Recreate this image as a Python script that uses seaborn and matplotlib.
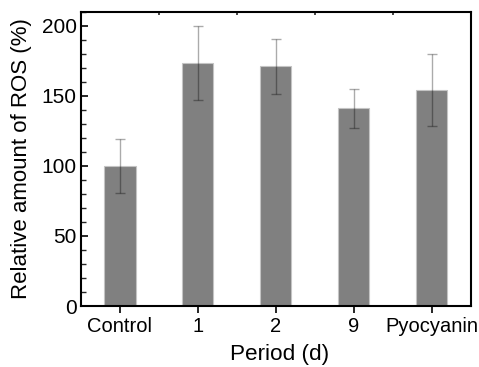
import matplotlib
matplotlib.use("Agg")
import matplotlib.pyplot as plt
import seaborn as sns
import pandas as pd
import numpy as np
from matplotlib.ticker import MultipleLocator, FixedLocator

categories = ["Control", "1", "2", "9", "Pyocyanin"]
ros_mean = [100.0, 173.5, 171.0, 141.0, 154.0]
ros_err = [19.0, 26.5, 19.5, 13.8, 25.6]

sns.set_theme(style="ticks")
plt.rcParams['font.family'] = ['Liberation Sans', 'DejaVu Sans']
plt.rcParams['text.color'] = 'black'
plt.rcParams['axes.labelcolor'] = 'black'

fig = plt.figure(figsize=(4.79, 3.67), dpi=100)
ax = fig.add_axes([0.169, 0.166, 0.8137, 0.802])

df = pd.DataFrame({"Period": categories, "ROS": ros_mean})
sns.barplot(data=df, x="Period", y="ROS", order=categories, color="#808080",
            saturation=1, width=0.4, edgecolor="#c4c4c4", linewidth=0.8,
            errorbar=None, ax=ax)
xpos = np.arange(len(categories))
ax.errorbar(xpos, ros_mean, yerr=ros_err, fmt="none", ecolor=(0, 0, 0, 0.33),
            elinewidth=1.0, capsize=3.5, capthick=1.0, zorder=5)

ax.set_xlim(-0.5, 4.5)
ax.set_ylim(0, 210)
ax.yaxis.set_major_locator(MultipleLocator(50))
ax.yaxis.set_minor_locator(MultipleLocator(10))
ax.tick_params(axis="y", which="major", direction="in", length=5, width=1.2,
               labelsize=15, pad=3, colors="black")
ax.tick_params(axis="y", which="minor", direction="in", length=3.5, width=1.0)
ax.tick_params(axis="x", which="major", direction="out", length=5, width=1.2,
               labelsize=14.5, pad=3, colors="black")
ax.xaxis.set_minor_locator(FixedLocator([0.5, 1.5, 2.5, 3.5]))
ax.tick_params(axis="x", which="minor", bottom=False, top=True, direction="in",
               length=2, width=1.2)

for s in ax.spines.values():
    s.set_visible(True)
    s.set_linewidth(1.5)
    s.set_color("black")

ax.set_xlabel("Period (d)", fontsize=16.2, labelpad=5.5, color="black")
ax.xaxis.label.set_x(0.509)
ax.set_ylabel("Relative amount of ROS (%)", fontsize=16, labelpad=7, color="black")
ax.set_facecolor("white")
fig.patch.set_facecolor("white")

fig.savefig("out.png", dpi=100)
